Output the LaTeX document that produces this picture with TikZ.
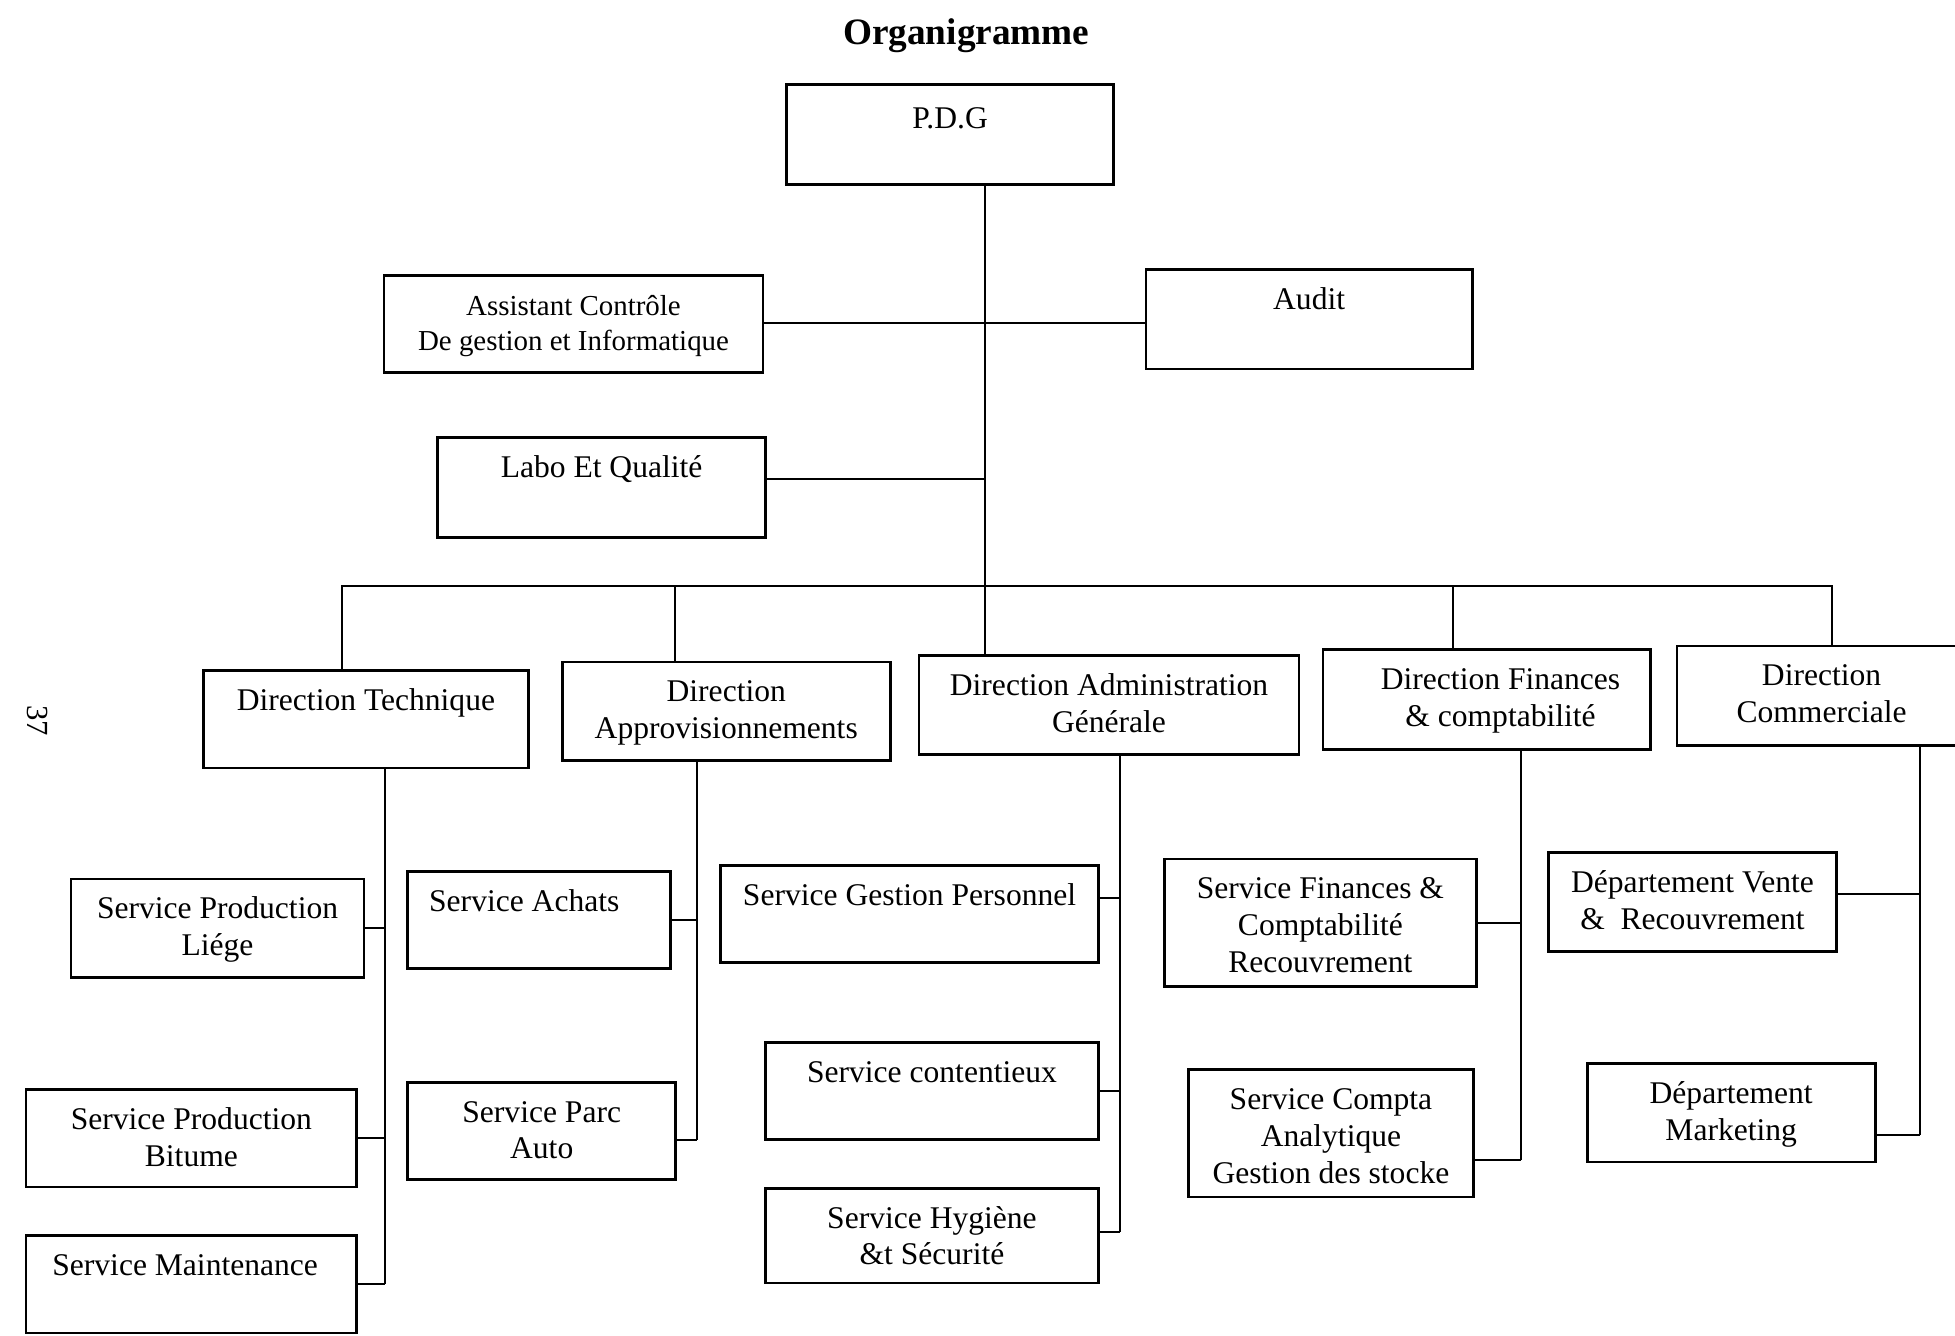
\documentclass[tikz,border=0pt]{standalone}
\usepackage{fontspec}
\setmainfont{Liberation Serif}

\newlength{\unite}
\setlength{\unite}{0.01cm}

\tikzset{
  boite/.style={draw, line width=0.6pt, inner sep=0pt, outer sep=0pt, anchor=north west,
    font=\fontsize{7.2}{8.4}\selectfont},
  liaison/.style={line width=0.45pt}
}

% nom, x, y (coin haut gauche), largeur, hauteur, texte
\newcommand{\boite}[6]{%
  \node[boite] (#1) at (#2,#3)
    {\parbox[c][#5\unite][t]{#4\unite}{\centering\rule{0pt}{32\unite}#6}};}

\begin{document}
\begin{tikzpicture}[x=0.01cm, y=-0.01cm]
  \useasboundingbox (0,0) rectangle (1568,1071);

  \node[font=\fontsize{8.5}{10}\selectfont\bfseries] (titre) at (775,29) {Organigramme};
  \node[font=\fontsize{7}{8}\selectfont, rotate=-90] (page) at (30,578) {37};

  % Direction generale
  \boite{pdg}{631}{68}{262}{80}{\rule{0pt}{35\unite}P.D.G}
  \boite{assistant}{308}{221}{304}{78}{\fontsize{6.6}{7.9}\selectfont Assistant Contrôle\\De gestion et Informatique}
  \boite{audit}{919}{216}{262}{80}{Audit}
  \boite{labo}{351}{351}{263}{80}{Labo Et Qualité}

  % Directions
  \boite{dt}{163}{538}{261}{78}{Direction Technique}
  \boite{dappro}{451}{531}{263}{79}{Direction\\Approvisionnements}
  \boite{dag}{737}{526}{305}{79}{Direction Administration\\Générale}
  \boite{dfin}{1061}{521}{263}{80}{\hspace*{22\unite}Direction Finances\\\hspace*{22\unite}\& comptabilité}
  \boite{dcom}{1345}{518}{232}{80}{Direction\\Commerciale}

  % Services
  \boite{liege}{57}{705}{235}{79}{Service Production\\Liége}
  \boite{bitume}{21}{874}{265}{78}{Service Production\\Bitume}
  \boite{maint}{21}{991}{265}{78}{Service Maintenance\hspace*{10\unite}}
  \boite{achats}{327}{699}{211}{78}{Service Achats\hspace*{24\unite}}
  \boite{parc}{327}{868}{215}{78}{Service Parc\\Auto}
  \boite{gestion}{578}{694}{303}{78}{Service Gestion Personnel}
  \boite{contentieux}{614}{836}{267}{78}{Service contentieux}
  \boite{hygiene}{614}{953}{267}{76}{Service Hygiène\\\&t Sécurité}
  \boite{finances}{934}{689}{250}{102}{Service Finances \&\\Comptabilité\\Recouvrement}
  \boite{compta}{953}{858}{229}{102}{Service Compta\\Analytique\\Gestion des stocke}
  \boite{vente}{1242}{684}{231}{79}{Département Vente\\\&\ \ Recouvrement}
  \boite{marketing}{1273}{853}{231}{79}{Département\\Marketing}

  % Points de jonction
  \coordinate (bus) at (790,470);
  \coordinate (jassist) at (790,259);
  \coordinate (jlabo) at (790,384);
  \coordinate (bdt) at (274,470);
  \coordinate (bappro) at (541,470);
  \coordinate (bfin) at (1165,470);
  \coordinate (bcom) at (1469,470);
  \coordinate (tdt) at (309,1030);
  \coordinate (tappro) at (559,914);
  \coordinate (tdag) at (898,988);
  \coordinate (jgestion) at (898,720);
  \coordinate (tfin) at (1220,930);
  \coordinate (tcom) at (1540,910);
  \coordinate (jvente) at (1540,717);

  % Tronc principal
  \draw[liaison] (pdg.south -| bus) -- (dag.north -| bus);
  \draw[liaison] (jassist -| assistant.east) -- (jassist -| audit.west);
  \draw[liaison] (jlabo -| labo.east) -- (jlabo);
  \draw[liaison] (bdt |- dt.north) -- (bdt) -- (bcom) -- (bcom |- dcom.north);
  \draw[liaison] (bappro) -- (bappro |- dappro.north);
  \draw[liaison] (bfin) -- (bfin |- dfin.north);

  % Direction Technique
  \draw[liaison] (tdt |- dt.south) -- (tdt);
  \draw[liaison] (liege.east) -- (liege.east -| tdt);
  \draw[liaison] (bitume.east) -- (bitume.east -| tdt);
  \draw[liaison] (maint.east) -- (tdt);

  % Direction Approvisionnements
  \draw[liaison] (tappro |- dappro.south) -- (tappro);
  \draw[liaison] (achats.east) -- (achats.east -| tappro);
  \draw[liaison] (tappro) -- (tappro -| parc.east);

  % Direction Administration
  \draw[liaison] (tdag |- dag.south) -- (tdag);
  \draw[liaison] (jgestion) -- (jgestion -| gestion.east);
  \draw[liaison] (contentieux.east) -- (contentieux.east -| tdag);
  \draw[liaison] (tdag) -- (tdag -| hygiene.east);

  % Direction Finances
  \draw[liaison] (tfin |- dfin.south) -- (tfin);
  \draw[liaison] (finances.east) -- (finances.east -| tfin);
  \draw[liaison] (tfin) -- (tfin -| compta.east);

  % Direction Commerciale
  \draw[liaison] (tcom |- dcom.south) -- (tcom);
  \draw[liaison] (jvente) -- (jvente -| vente.east);
  \draw[liaison] (tcom) -- (tcom -| marketing.east);
\end{tikzpicture}
\end{document}
